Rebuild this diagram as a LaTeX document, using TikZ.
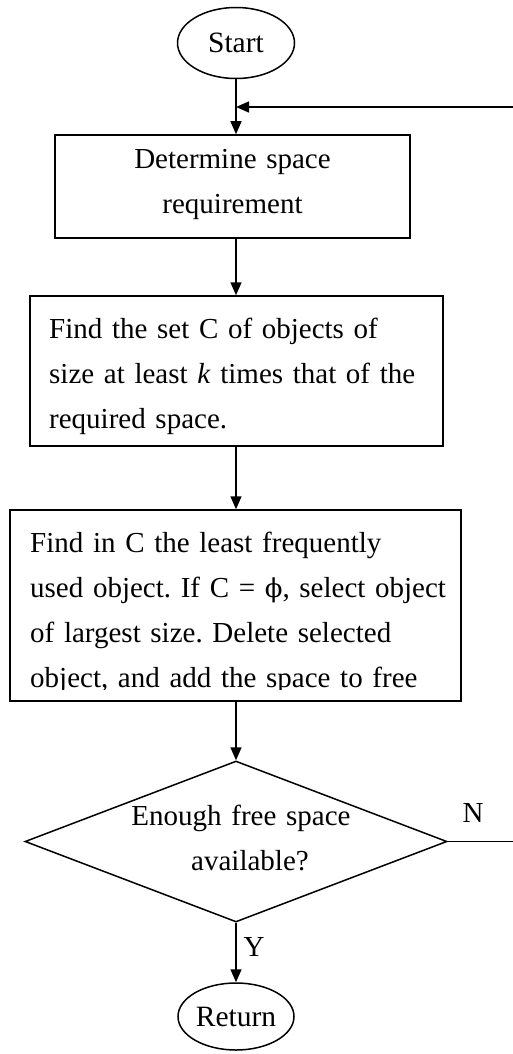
\documentclass[tikz,border=0pt]{standalone}
\usepackage{fontspec}
\setmainfont{Liberation Serif}
\newfontfamily\phifont{DejaVu Serif}
\usetikzlibrary{shapes.geometric,arrows.meta}
\frenchspacing
\hyphenpenalty=10000
\tikzset{
  line/.style={line width=1.5pt,draw=black},
  arr/.style={line, -{Triangle[width=11pt,length=13pt]}},
  term/.style={ellipse,line,inner sep=0pt,font=\fontsize{29.5}{45}\selectfont},
  procbox/.style={rectangle,line,inner sep=0pt},
  decision/.style={diamond,line,inner sep=0pt},
  txt/.style={inner sep=0pt,font=\fontsize{29}{45}\selectfont},
  lbl/.style={inner sep=0pt,font=\fontsize{29}{36}\selectfont}
}
\begin{document}
\begin{tikzpicture}[x=1pt,y=-1pt]
\useasboundingbox (0,0) rectangle (512,1054);
% nodes
\node[term,minimum width=117pt,minimum height=71pt] (start) at (236,43) {Start};
\node[procbox,minimum width=355pt,minimum height=103pt] (b1) at (232.5,186.5) {};
\node[txt,anchor=base,text width=355pt,align=center] (t1) at (232.5,168) {Determine space\\requirement};
\node[procbox,minimum width=413pt,minimum height=150pt] (b2) at (236.5,371) {};
\node[txt,anchor=base west,text width=480pt,align=left] (t2) at (49,338) {Find the set C of objects of\\size at least \textit{k} times that of the\\required space.};
\node[procbox,minimum width=451pt,minimum height=191pt] (b3) at (235.5,605.5) {};
\begin{scope}
  \clip (10,510) rectangle (461,689.5);
  \node[txt,anchor=base west,text width=480pt,align=left] (t3) at (30,552) {Find in C the least frequently\\used object. If C = {\phifont\fontsize{26}{45}\selectfont ϕ}, select object\\of largest size. Delete selected\\object, and add the space to free};
\end{scope}
\node[decision,minimum width=422pt,minimum height=161pt] (d) at (236,841.5) {};
\node[txt,anchor=base,text width=340pt,align=center] (dt) at (241,825) {Enough free space\\\hspace*{18pt}available?};
\node[term,minimum width=116pt,minimum height=67pt] (ret) at (236,1016.5) {Return};
\node[lbl] (nl) at (473,813) {N};
\node[lbl] (yl) at (254,947) {Y};
\coordinate (join) at (236,107);
\coordinate (fbr) at (515,841.5);
% connectors
\draw[arr] (start.south) -- (b1.north -| start.south);
\draw[arr] (b1.south -| start.south) -- (b2.north -| start.south);
\draw[arr] (b2.south -| start.south) -- (b3.north -| start.south);
\draw[arr] (b3.south -| start.south) -- (d.north);
\draw[arr] (d.south) -- (ret.north);
\draw[arr] (d.east) -- (fbr) |- (join);
\end{tikzpicture}
\end{document}
